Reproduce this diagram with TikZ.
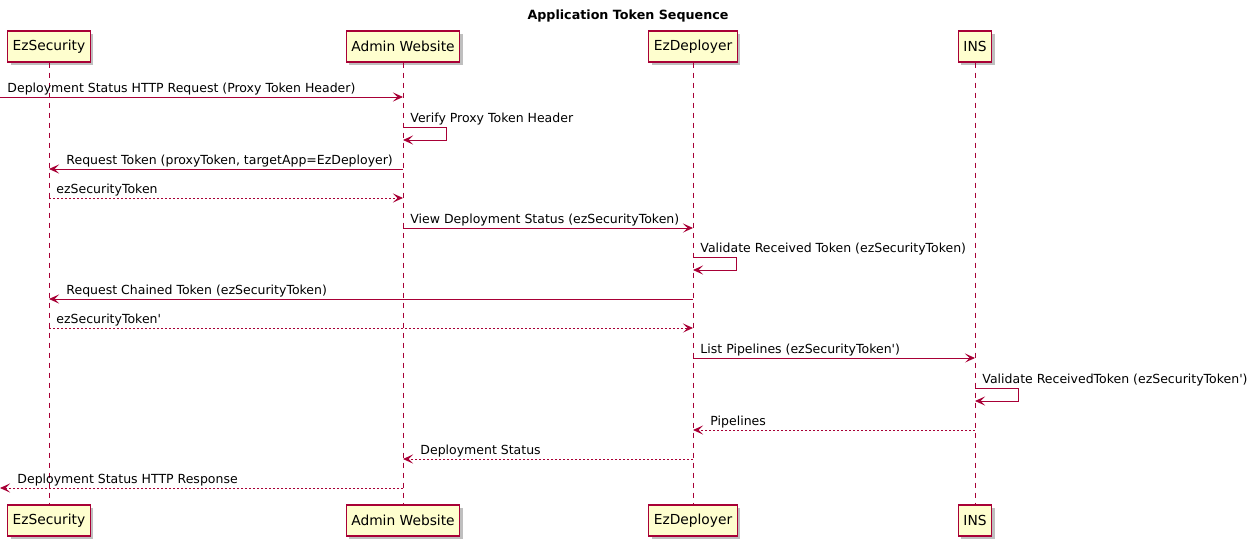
\documentclass[tikz,border=0pt]{standalone}
\usepackage{fontspec}
\setmainfont{DejaVu Sans}
\usetikzlibrary{arrows.meta,shadows}
\definecolor{umlred}{HTML}{A80036}
\definecolor{umlfill}{HTML}{FEFECE}

\tikzset{
  actor/.style={draw=umlred, fill=umlfill, line width=1.2pt, minimum height=31pt,
    inner xsep=5pt, font=\fontsize{13.8}{16}\selectfont,
    drop shadow={shadow xshift=3pt, shadow yshift=-3pt, opacity=0.25, fill=black}},
  life/.style={umlred, line width=0.8pt, dash pattern=on 5pt off 5pt},
  msg/.style={umlred, line width=0.9pt, -{Stealth[length=10pt,width=9pt,inset=4.5pt]}},
  reply/.style={msg, dash pattern=on 2pt off 2pt},
  lbl/.style={anchor=base west, inner sep=0pt, text=black, font=\fontsize{12.5}{15}\selectfont}
}

\begin{document}
\begin{tikzpicture}[x=1pt, y=-1pt]
  \useasboundingbox (0,0) rectangle (1255,541);

  \node[font=\bfseries\fontsize{12.7}{15}\selectfont] (title) at (628,16) {Application Token Sequence};

  \node[actor] (secTop) at (49,46.5) {EzSecurity};
  \node[actor] (adminTop) at (403,46.5) {Admin Website};
  \node[actor] (depTop) at (693,46.5) {EzDeployer};
  \node[actor] (insTop) at (975,46.5) {INS};

  \node[actor] (secBot) at (49,520.5) {EzSecurity};
  \node[actor] (adminBot) at (403,520.5) {Admin Website};
  \node[actor] (depBot) at (693,520.5) {EzDeployer};
  \node[actor] (insBot) at (975,520.5) {INS};

  \draw[life] (secTop) -- (secBot);
  \draw[life] (adminTop) -- (adminBot);
  \draw[life] (depTop) -- (depBot);
  \draw[life] (insTop) -- (insBot);

  \coordinate (edge) at (0,0);
  \foreach \i/\y in {1/97,2/127,3/169,4/198,5/228,6/257,7/299,8/328,9/358,10/388,11/430,12/459,13/488}
    \coordinate (r\i) at (0,\y);

  \draw[msg] (edge |- r1) -- (adminTop |- r1)
    node[lbl, pos=0, xshift=7pt, yshift=5pt] {Deployment Status HTTP Request (Proxy Token Header)};
  \draw[msg] (adminTop |- r2) node[lbl, xshift=7pt, yshift=5pt] {Verify Proxy Token Header}
    -- ++(43,0) -- ++(0,13) -- ++(-43,0);
  \draw[msg] (adminTop |- r3) -- (secTop |- r3)
    node[lbl, pos=1, xshift=17pt, yshift=5pt] {Request Token (proxyToken, targetApp=EzDeployer)};
  \draw[reply] (secTop |- r4) -- (adminTop |- r4)
    node[lbl, pos=0, xshift=7pt, yshift=5pt] {ezSecurityToken};
  \draw[msg] (adminTop |- r5) -- (depTop |- r5)
    node[lbl, pos=0, xshift=7pt, yshift=5pt] {View Deployment Status (ezSecurityToken)};
  \draw[msg] (depTop |- r6) node[lbl, xshift=7pt, yshift=5pt] {Validate Received Token (ezSecurityToken)}
    -- ++(43,0) -- ++(0,13) -- ++(-43,0);
  \draw[msg] (depTop |- r7) -- (secTop |- r7)
    node[lbl, pos=1, xshift=17pt, yshift=5pt] {Request Chained Token (ezSecurityToken)};
  \draw[reply] (secTop |- r8) -- (depTop |- r8)
    node[lbl, pos=0, xshift=7pt, yshift=5pt] {ezSecurityToken\textquotesingle};
  \draw[msg] (depTop |- r9) -- (insTop |- r9)
    node[lbl, pos=0, xshift=7pt, yshift=5pt] {List Pipelines (ezSecurityToken\textquotesingle)};
  \draw[msg] (insTop |- r10) node[lbl, xshift=7pt, yshift=5pt] {Validate ReceivedToken (ezSecurityToken\textquotesingle)}
    -- ++(43,0) -- ++(0,13) -- ++(-43,0);
  \draw[reply] (insTop |- r11) -- (depTop |- r11)
    node[lbl, pos=1, xshift=17pt, yshift=5pt] {Pipelines};
  \draw[reply] (depTop |- r12) -- (adminTop |- r12)
    node[lbl, pos=1, xshift=17pt, yshift=5pt] {Deployment Status};
  \draw[reply] (adminTop |- r13) -- (edge |- r13)
    node[lbl, pos=1, xshift=17pt, yshift=5pt] {Deployment Status HTTP Response};
\end{tikzpicture}
\end{document}
